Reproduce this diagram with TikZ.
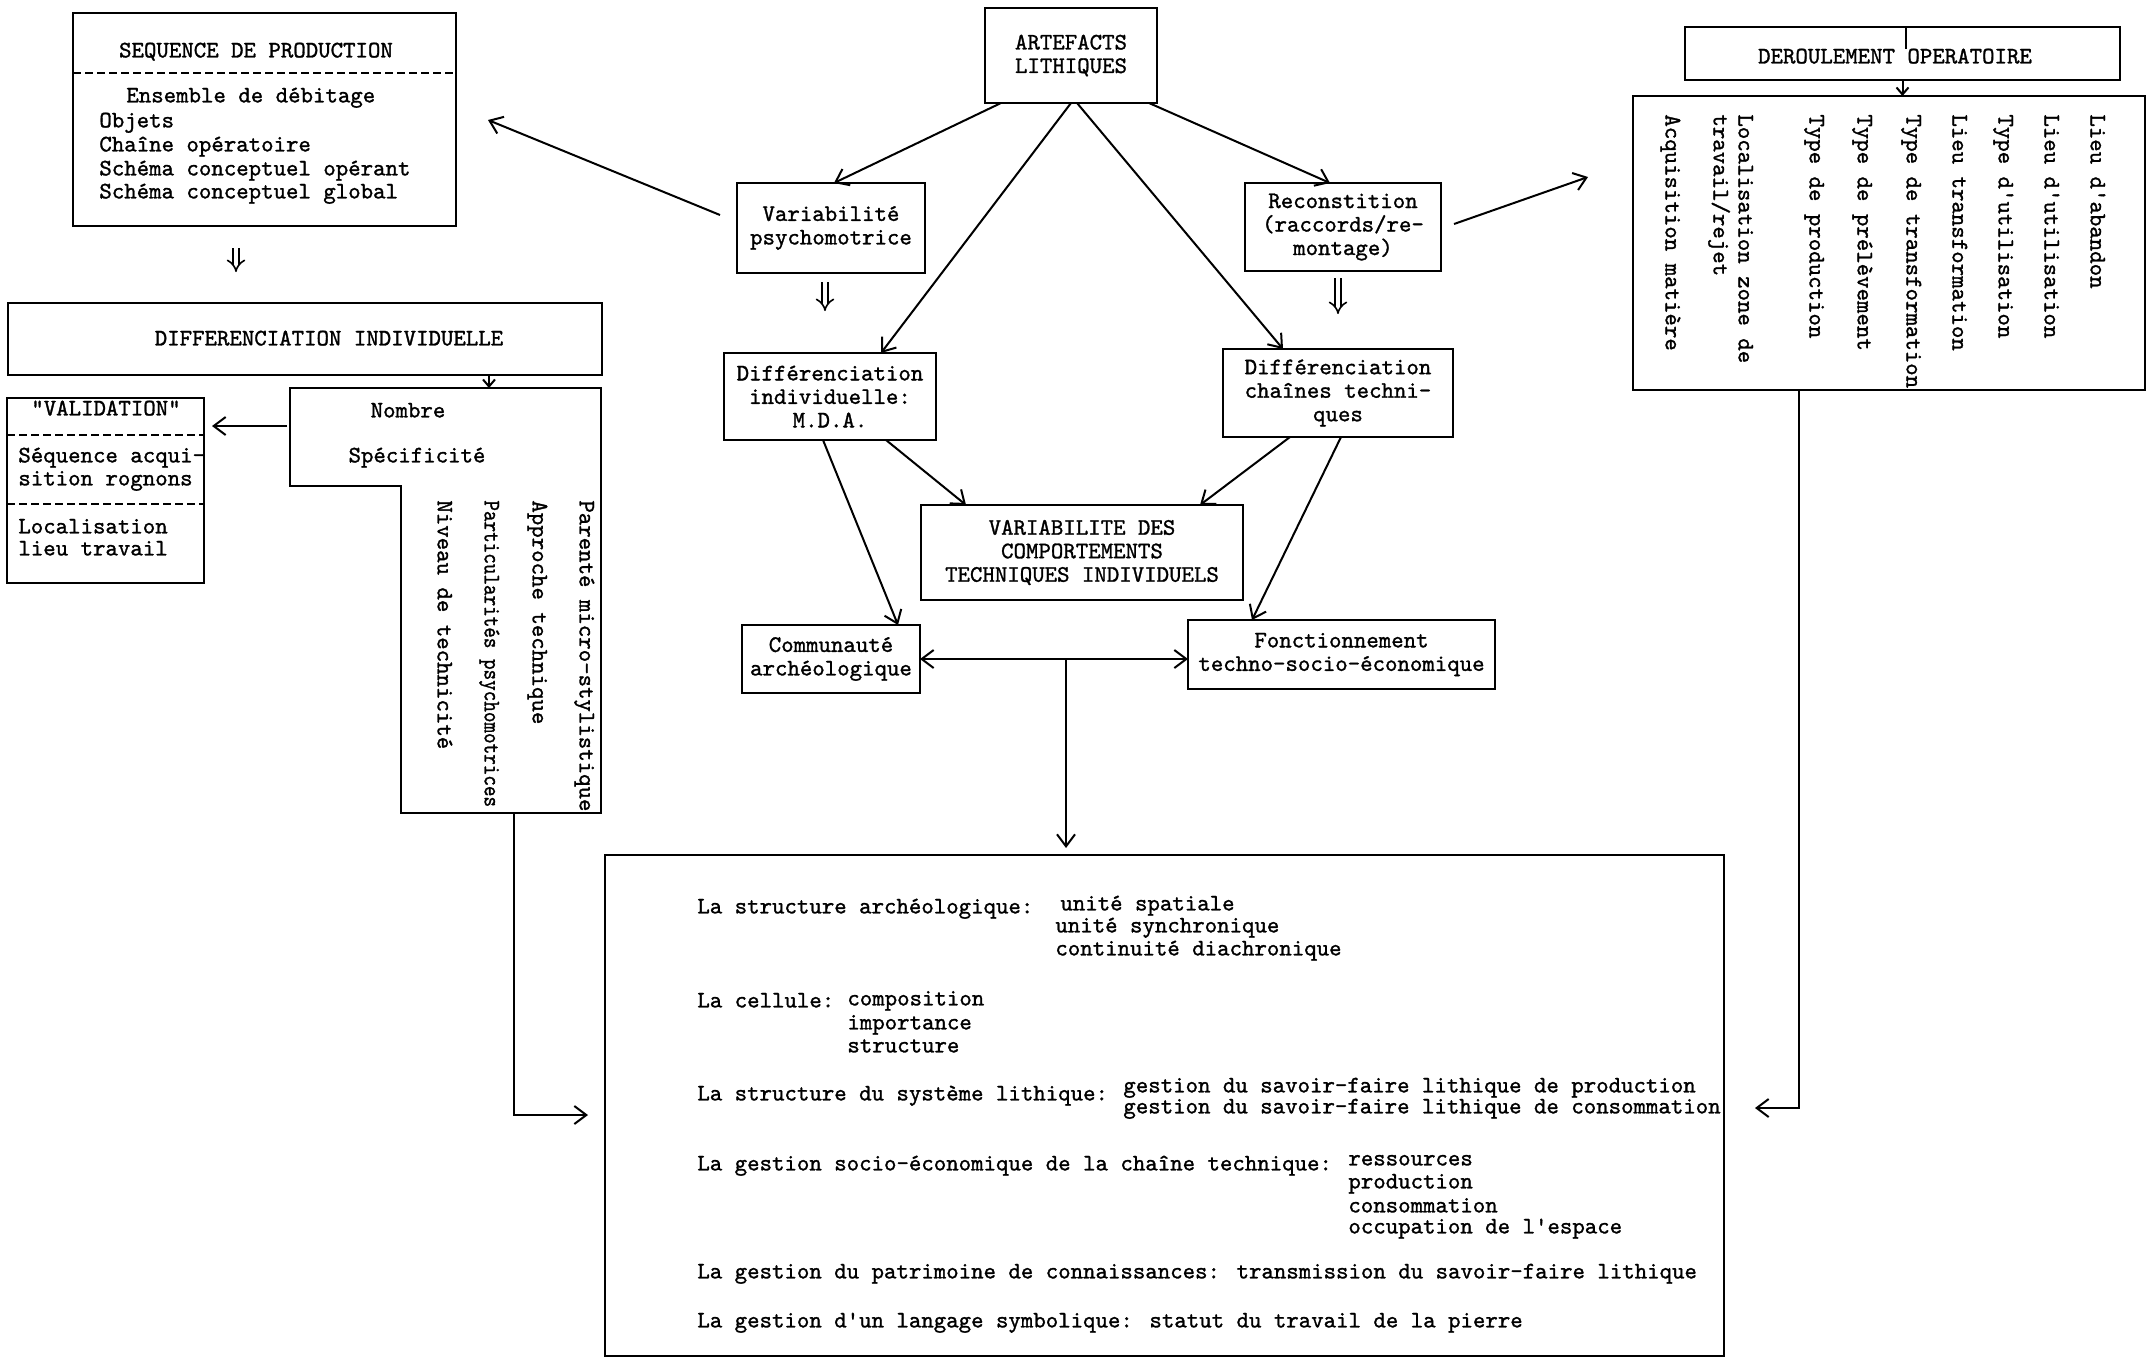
\documentclass[tikz,border=0pt]{standalone}
\usepackage{fontspec}
\usetikzlibrary{arrows.meta,calc}
\newfontfamily\lmtybold{lmmono10-regular.otf}[FakeBold=1.2]
\newcommand\mytt{\lmtybold\fontsize{11.85pt}{11.75pt}\selectfont}
\begin{document}
\begin{tikzpicture}[x=0.5pt,y=-0.5pt,
  box/.style={draw, line width=1.3pt, inner sep=0pt, outer sep=0pt},
  ghost/.style={inner sep=0pt, outer sep=0pt},
  tbox/.style={box, font=\mytt, align=center},
  txt/.style={font=\mytt, inner sep=0pt, text height=7.8pt, text depth=2.4pt},
  ltxt/.style={txt, anchor=west},
  vtxt/.style={txt, rotate=-90, anchor=west},
  conn/.style={line width=1pt, -{Straight Barb[length=6pt,width=9pt]}},
  sconn/.style={line width=1pt, -{Straight Barb[length=3.5pt,width=6pt]}},
  dconn/.style={line width=0.8pt, double, double distance=2.4pt, -{Implies}},
  sepline/.style={line width=1pt, dash pattern=on 4pt off 2pt}
]
\useasboundingbox[fill=white] (0,0) rectangle (2153,1366);

% ---------- left column ----------
\node[box, minimum width=191.5pt, minimum height=106.5pt] (seq) at (264.5,119.5) {};
\draw[sepline] ($(seq.north west)+(0,60)$) -- ($(seq.north east)+(0,60)$);
\node[txt] (seqt) at (256,52) {SEQUENCE DE PRODUCTION};
\node[ltxt] (s1) at (126,97) {Ensemble de débitage};
\node[ltxt] (s2) at (99,122) {Objets};
\node[ltxt] (s3) at (99,146) {Chaîne opératoire};
\node[ltxt] (s4) at (99,170) {Schéma conceptuel opérant};
\node[ltxt] (s5) at (99,193) {Schéma conceptuel global};

\node[box, minimum width=297pt, minimum height=36pt] (dind) at (305,339) {};
\node[txt] (dindt) at (329,340) {DIFFERENCIATION INDIVIDUELLE};

\node[box, minimum width=98.5pt, minimum height=92.5pt] (valid) at (105.5,490.5) {};
\draw[sepline] ($(valid.north west)+(0,37)$) -- ($(valid.north east)+(0,37)$);
\draw[sepline] ($(valid.north west)+(0,106)$) -- ($(valid.north east)+(0,106)$);
\node[txt] (v0) at (106,410) {"VALIDATION"};
\node[ltxt] (v1) at (18,457) {Séquence acqui-};
\node[ltxt] (v2) at (18,480) {sition rognons};
\node[ltxt] (v3) at (18,528) {Localisation};
\node[ltxt] (v4) at (18,550) {lieu travail};

\node[ghost, minimum width=155.5pt, minimum height=49pt] (lbox) at (445.5,437) {};
\node[ghost, minimum width=100pt, minimum height=163.5pt] (lcol) at (501,649.5) {};
\draw[line width=1.3pt] (lbox.north west) -- (lbox.north east) -- (lcol.south east)
  -- (lcol.south west) -- (lcol.north west) -- (lbox.south west) -- cycle;
\node[txt] (l1) at (408,412) {Nombre};
\node[txt] (l2) at (417,457) {Spécificité};
\node[vtxt] (l3) at (585,500) {Parenté micro-stylistique};
\node[vtxt] (l4) at (538,500) {Approche technique};
\node[vtxt] (l5) at (490,500) {\scalebox{0.85}[1]{Particularités psychomotrices}};
\node[vtxt] (l6) at (443,500) {Niveau de technicité};

% ---------- centre ----------
\node[tbox, minimum width=86pt, minimum height=47.5pt] (art) at (1071,55.5) {ARTEFACTS\\LITHIQUES};
\node[tbox, minimum width=94pt, minimum height=45pt] (vpsy) at (831,228) {Variabilité\\psychomotrice};
\node[tbox, minimum width=98pt, minimum height=44pt] (recon) at (1343,227) {Reconstition\\(raccords/re-\\montage)};
\node[tbox, minimum width=106pt, minimum height=43.5pt] (dmda) at (830,396.5) {Différenciation\\individuelle:\\M.D.A.};
\node[tbox, minimum width=115pt, minimum height=44pt] (dch) at (1338,393) {Différenciation\\chaînes techni-\\ques};
\node[tbox, minimum width=161pt, minimum height=47.5pt] (vct) at (1082,552.5) {VARIABILITE DES\\COMPORTEMENTS\\TECHNIQUES INDIVIDUELS};
\node[tbox, minimum width=89pt, minimum height=34pt] (comm) at (831,659) {Communauté\\archéologique};
\node[tbox, minimum width=153.5pt, minimum height=34.5pt] (fonc) at (1341.5,654.5) {Fonctionnement\\techno-socio-économique};

% ---------- right column ----------
\node[box, minimum width=217.5pt, minimum height=26.5pt] (derou) at (1902.5,53.5) {};
\node[txt] (derout) at (1895,58) {DEROULEMENT OPERATOIRE};
\node[box, minimum width=256pt, minimum height=147pt] (rlist) at (1889,243) {};
\node[vtxt] (r1) at (2096,114) {Lieu d'abandon};
\node[vtxt] (r2) at (2050,114) {Lieu d'utilisation};
\node[vtxt] (r3) at (2004,114) {Type d'utilisation};
\node[vtxt] (r4) at (1958,114) {Lieu transformation};
\node[vtxt] (r5) at (1912,114) {Type de transformation};
\node[vtxt] (r6) at (1863,114) {Type de prélèvement};
\node[vtxt] (r7) at (1815,114) {Type de production};
\node[vtxt] (r8) at (1744,114) {Localisation zone de};
\node[vtxt] (r9) at (1719,114) {travail/rejet};
\node[vtxt] (r10) at (1671,114) {Acquisition matière};

% ---------- bottom box ----------
\node[box, minimum width=559.5pt, minimum height=250.5pt] (big) at (1164.5,1105.5) {};
\node[ltxt] (b1) at (697,908) {La structure archéologique:};
\node[ltxt] (b2) at (1060,905) {unité spatiale};
\node[ltxt] (b3) at (1055,927) {unité synchronique};
\node[ltxt] (b4) at (1055,950) {continuité diachronique};
\node[ltxt] (b5) at (697,1002) {La cellule:};
\node[ltxt] (b6) at (847,1000) {composition};
\node[ltxt] (b7) at (847,1024) {importance};
\node[ltxt] (b8) at (847,1047) {structure};
\node[ltxt] (b9) at (697,1095) {La structure du système lithique:};
\node[ltxt] (b10) at (1123,1087) {gestion du savoir-faire lithique de production};
\node[ltxt] (b11) at (1123,1108) {gestion du savoir-faire lithique de consommation};
\node[ltxt] (b12) at (697,1165) {La gestion socio-économique de la chaîne technique:};
\node[ltxt] (b13) at (1348,1160) {ressources};
\node[ltxt] (b14) at (1348,1183) {production};
\node[ltxt] (b15) at (1348,1207) {consommation};
\node[ltxt] (b16) at (1348,1228) {occupation de l'espace};
\node[ltxt] (b17) at (697,1273) {La gestion du patrimoine de connaissances: transmission du savoir-faire lithique};
\node[ltxt] (b18) at (697,1322) {La gestion d'un langage symbolique: statut du travail de la pierre};

% ---------- connectors ----------
\draw[conn] ($(art.south west)+(16,0)$) -- ($(vpsy.north)+(3,0)$);
\draw[conn] (art.south) -- ($(dmda.north)+(51,0)$);
\draw[conn] ($(art.south)+(6,0)$) -- ($(dch.north west)+(60,0)$);
\draw[conn] ($(art.south east)+(-8,0)$) -- ($(recon.north)+(-13,0)$);
\draw[conn] ($(vpsy.west)+(-17,-13)$) -- ($(seq.east)+(32,0.5)$);
\draw[conn] ($(recon.east)+(13,-3)$) -- ($(rlist.north west)+(-45,81)$);
\draw[conn] ($(dmda.south)+(56,0)$) -- ($(vct.north west)+(45,0)$);
\draw[conn] ($(dmda.south)+(-7,0)$) -- ($(comm.north)+(67,0)$);
\draw[conn] ($(dch.south)+(-48,0)$) -- ($(vct.north east)+(-43,0)$);
\draw[conn] ($(dch.south)+(3,0)$) -- ($(fonc.north west)+(64,0)$);
\draw[line width=1pt, {Straight Barb[length=6pt,width=9pt]}-{Straight Barb[length=6pt,width=9pt]}]
  (comm.east) -- (comm.east -| fonc.west);
\coordinate (junc) at ($(comm.east)+(146,0)$);
\draw[conn, shorten >=3.5pt] (junc) -- (junc |- big.north);

\draw[sconn] ($(dind.south west)+(481,0)$) -- ($(lbox.north west)+(199,0)$);
\draw[conn] ($(lbox.west)+(-3,-11)$) -- ($(valid.east)+(8,-64.5)$);
\draw[sconn] (derou.south) -- (derou.south |- rlist.north);
\draw[line width=1pt] ($(derou.north)+(3,0)$) -- ($(derou.north)+(3,22)$);

\draw[conn] ($(lcol.south west)+(113,0)$) |- ($(big.west)+(-17,9.5)$);
\draw[conn] ($(rlist.south west)+(166,0)$) |- ($(big.east)+(31,2.5)$);

\draw[dconn] ($(seq.south west)+(163,22)$) -- ($(seq.south west)+(163,46)$);
\draw[dconn] ($(vpsy.south)+(-6,9)$) -- ($(vpsy.south)+(-6,38)$);
\draw[dconn] ($(recon.south)+(-5,7)$) -- ($(recon.south)+(-5,43)$);
\end{tikzpicture}
\end{document}
